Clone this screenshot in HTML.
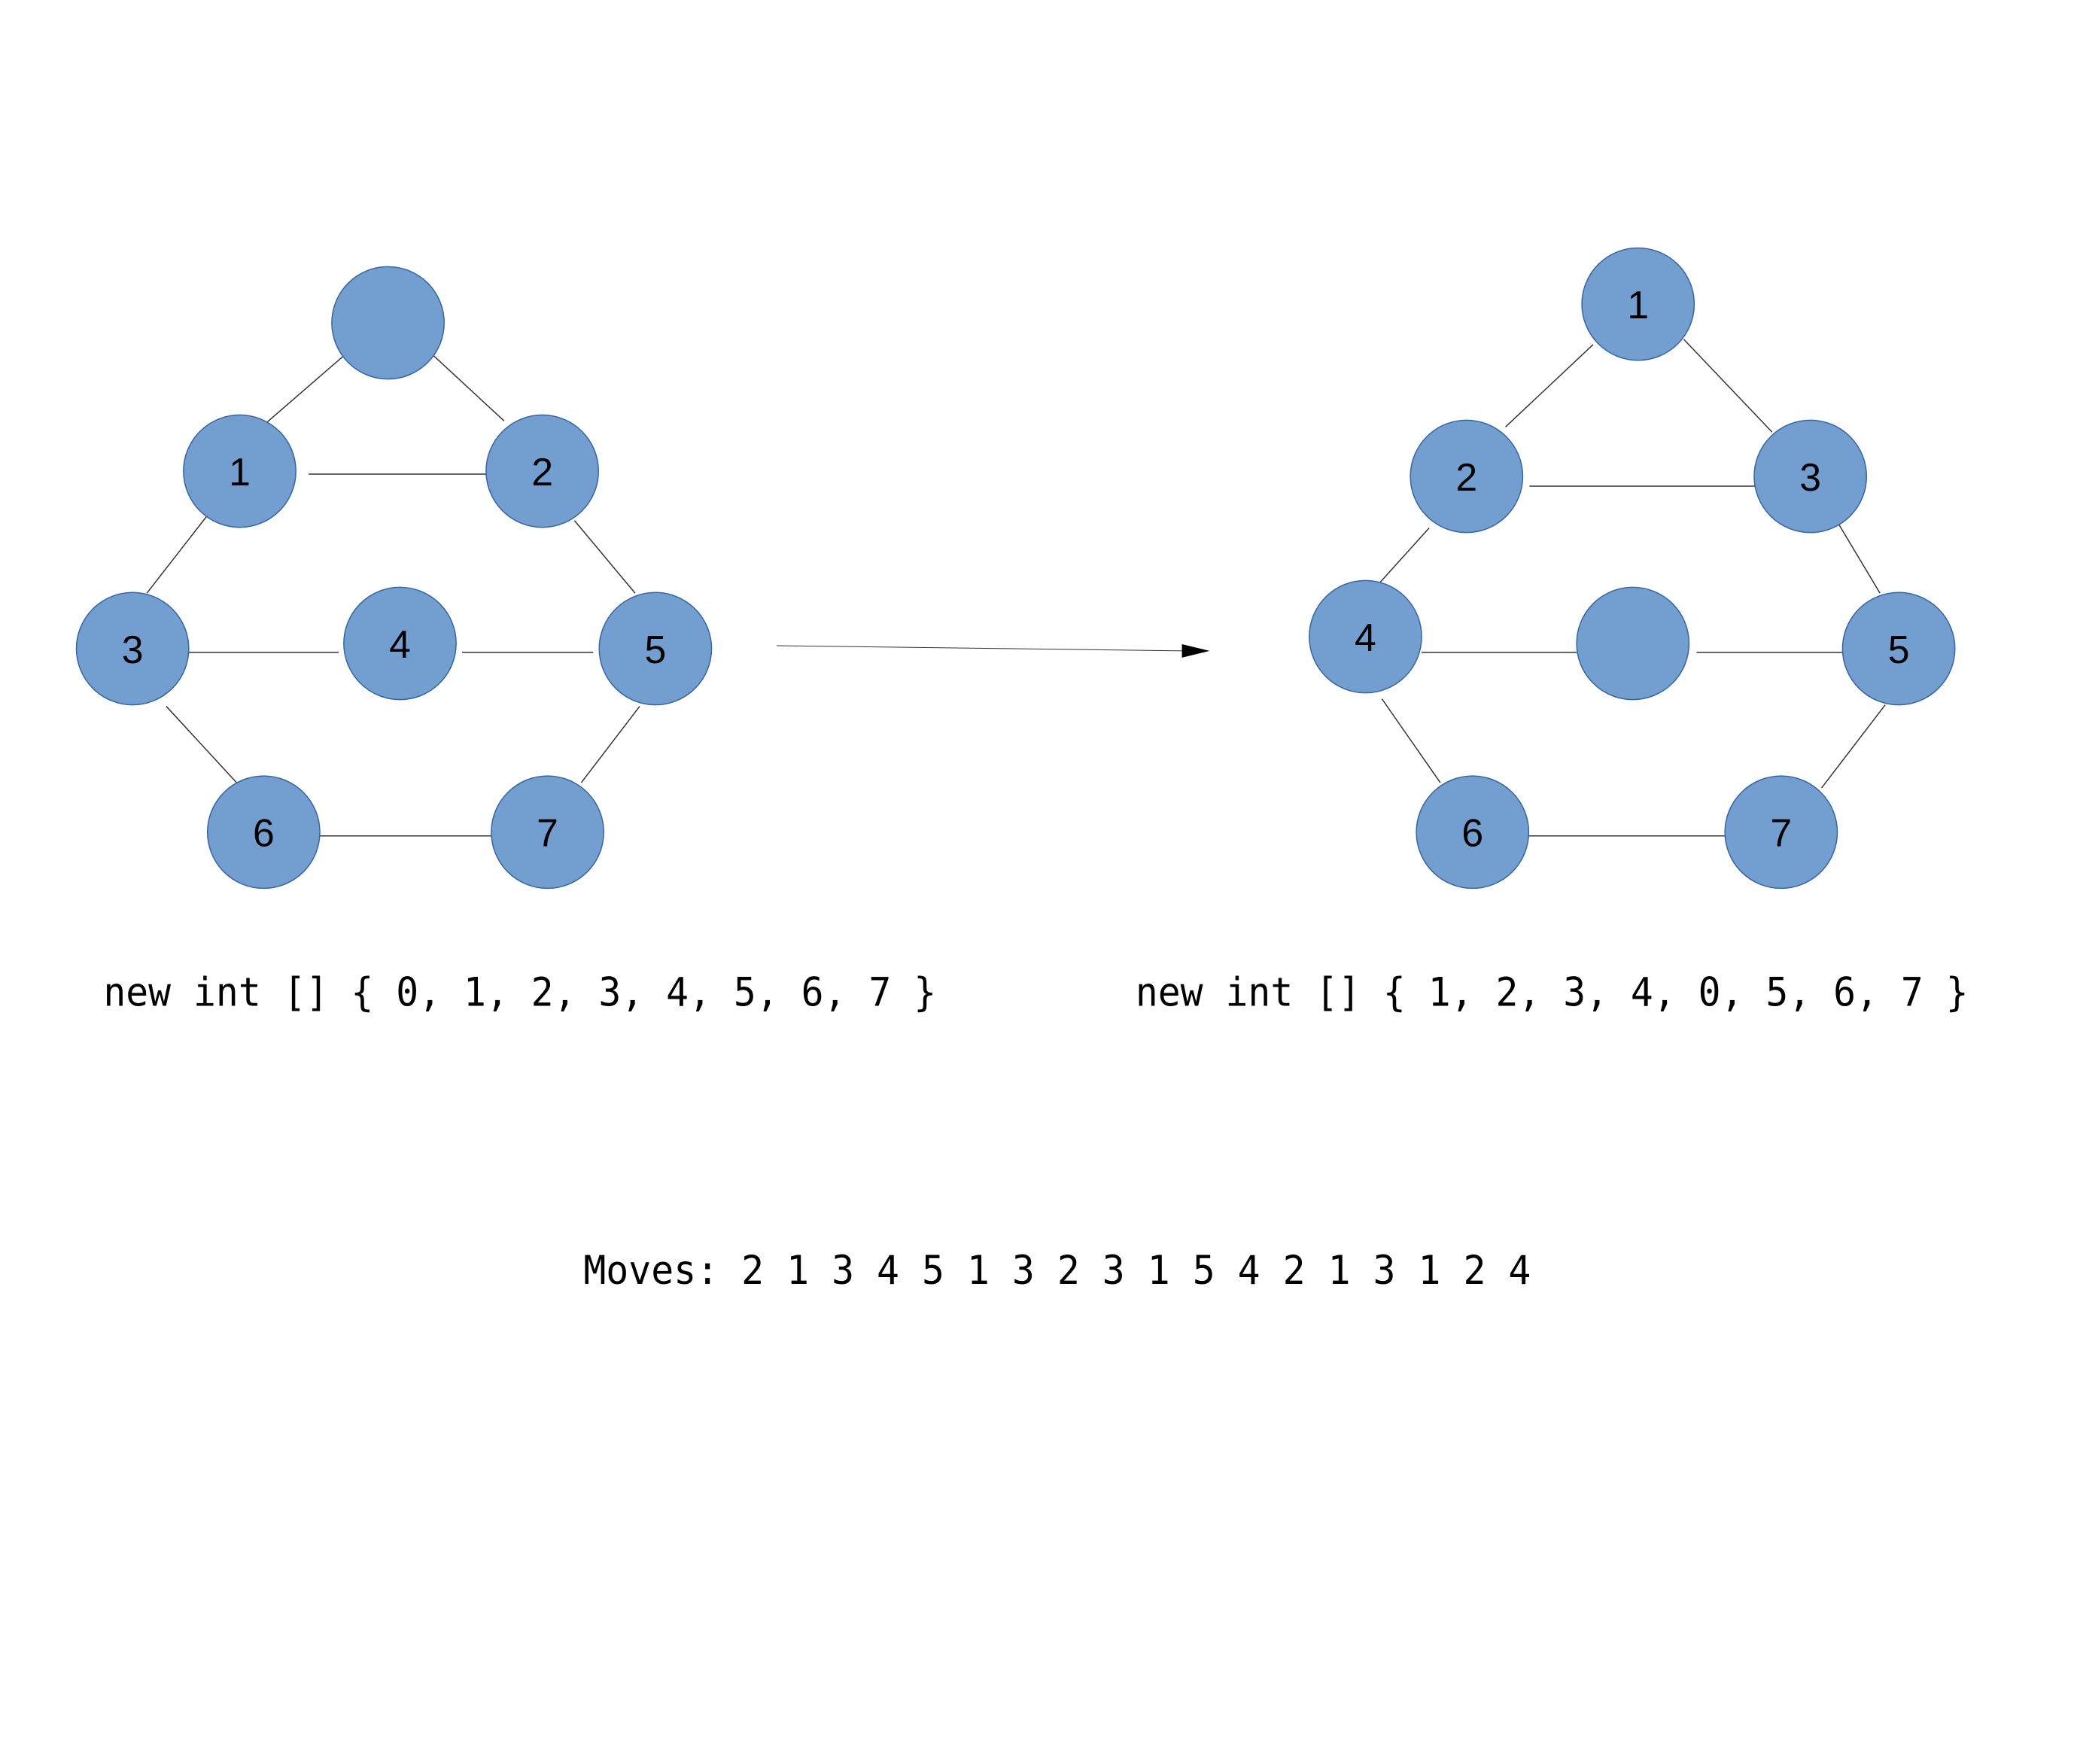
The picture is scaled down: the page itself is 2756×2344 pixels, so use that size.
<!DOCTYPE html>
<html><head><meta charset="utf-8"><style>html,body{margin:0;padding:0;background:#fff}</style></head>
<body>
<svg width="2756" height="2339" viewBox="0 0 2756 2339" xmlns="http://www.w3.org/2000/svg">
<g transform="scale(0.9953)">
<g stroke="#333" stroke-width="1.5">
<line x1="460" y1="474" x2="355" y2="565"/>
<line x1="578" y1="474" x2="673" y2="562"/>
<line x1="412" y1="633" x2="660" y2="633"/>
<line x1="277" y1="688" x2="196" y2="792"/>
<line x1="767" y1="695" x2="848" y2="792"/>
<line x1="252" y1="871" x2="452" y2="871"/>
<line x1="617" y1="871" x2="792" y2="871"/>
<line x1="222" y1="943" x2="316" y2="1045"/>
<line x1="854" y1="943" x2="776" y2="1045"/>
<line x1="418" y1="1116" x2="660" y2="1116"/>
<line x1="2127" y1="460" x2="2010" y2="570"/>
<line x1="2248" y1="453" x2="2366" y2="577"/>
<line x1="2042" y1="649" x2="2346" y2="649"/>
<line x1="1908" y1="705" x2="1843" y2="777"/>
<line x1="2455" y1="700" x2="2510" y2="792"/>
<line x1="1898" y1="871" x2="2105" y2="871"/>
<line x1="2265" y1="871" x2="2463" y2="871"/>
<line x1="1845" y1="933" x2="1923" y2="1045"/>
<line x1="2517" y1="941" x2="2432" y2="1052"/>
<line x1="2040" y1="1116" x2="2305" y2="1116"/>
<line x1="1037" y1="862" x2="1580" y2="869" stroke-width="1"/>
</g>
<polygon points="1578,860 1615,869 1578,878" fill="#000"/>
<g fill="#729fcf" stroke="#3465a4" stroke-width="1.5">
<circle cx="518" cy="431" r="75"/>
<circle cx="320" cy="629" r="75"/>
<circle cx="724" cy="629" r="75"/>
<circle cx="177" cy="866" r="75"/>
<circle cx="534" cy="859" r="75"/>
<circle cx="875" cy="866" r="75"/>
<circle cx="352" cy="1111" r="75"/>
<circle cx="731" cy="1111" r="75"/>
<circle cx="2187" cy="406" r="75"/>
<circle cx="1958" cy="636" r="75"/>
<circle cx="2417" cy="636" r="75"/>
<circle cx="1823" cy="850" r="75"/>
<circle cx="2180" cy="859" r="75"/>
<circle cx="2535" cy="866" r="75"/>
<circle cx="1966" cy="1111" r="75"/>
<circle cx="2378" cy="1111" r="75"/>
</g>
<g font-family="Liberation Sans, sans-serif" font-size="52" text-anchor="middle" fill="#000">
<text x="320" y="648">1</text>
<text x="724" y="648">2</text>
<text x="177" y="885">3</text>
<text x="534" y="878">4</text>
<text x="875" y="885">5</text>
<text x="352" y="1130">6</text>
<text x="731" y="1130">7</text>
<text x="2187" y="425">1</text>
<text x="1958" y="655">2</text>
<text x="2417" y="655">3</text>
<text x="1823" y="869">4</text>
<text x="2535" y="885">5</text>
<text x="1966" y="1130">6</text>
<text x="2378" y="1130">7</text>
</g>
<g font-family="DejaVu Sans Mono, Liberation Mono, monospace" font-size="53" fill="#000">
<text x="138" y="1343" textLength="1112" lengthAdjust="spacingAndGlyphs">new int [] { 0, 1, 2, 3, 4, 5, 6, 7 }</text>
<text x="1516" y="1343" textLength="1112" lengthAdjust="spacingAndGlyphs">new int [] { 1, 2, 3, 4, 0, 5, 6, 7 }</text>
<text x="779" y="1714" textLength="1265" lengthAdjust="spacingAndGlyphs">Moves: 2 1 3 4 5 1 3 2 3 1 5 4 2 1 3 1 2 4</text>
</g>
</g>
</svg>
</body></html>
